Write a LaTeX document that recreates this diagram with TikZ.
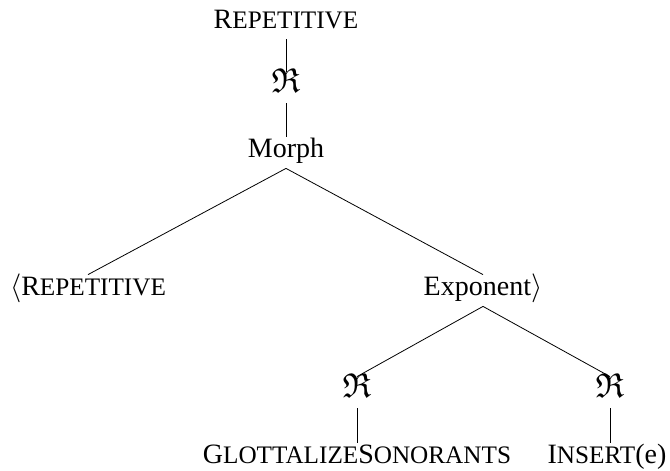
\documentclass[tikz,border=0pt]{standalone}
\usepackage{amsmath}
\usepackage{amsfonts}
\usepackage{fontspec}
\setmainfont{Liberation Serif}
\newcommand{\lowcaps}[1]{{\fontsize{12.6}{15}\selectfont #1}}
\newcommand{\realsym}{{\fontsize{17.28}{20}\selectfont$\mathfrak{R}$}}

\begin{document}
\begin{tikzpicture}[x=0.5pt, y=-0.5pt, font=\fontsize{14}{17}\selectfont,
    every node/.style={anchor=base, inner sep=3pt, text height=0.7em, text depth=0.25em}]
	\useasboundingbox (0,0) rectangle (670,471);
	\node (root) at (286,28) {R\lowcaps{EPETITIVE}};
	\node (real) at (286,92) {\realsym};
	\node (morph) at (286,157) {Morph};
	\node (rep) at (88,295) {$\langle$R\lowcaps{EPETITIVE}};
	\node (expo) at (483,295) {Exponent$\rangle$};
	\node (realL) at (357,397) {\realsym};
	\node (realR) at (610,397) {\realsym};
	\node (glot) at (357,463) {G\lowcaps{LOTTALIZE}S\lowcaps{ONORANTS}};
	\node (ins) at (607,463) {I\lowcaps{NSERT}(e)};
	\draw (root.south) -- (real.north);
	\draw (real.south) -- (morph.north);
	\draw (morph.south) -- (rep.north);
	\draw (morph.south) -- (expo.north);
	\draw (expo.south) -- (realL.north);
	\draw (expo.south) -- (realR.north);
	\draw (realL.south) -- (glot.north);
	\draw (realR.south) -- (realR.south |- ins.north);
\end{tikzpicture}
\end{document}
